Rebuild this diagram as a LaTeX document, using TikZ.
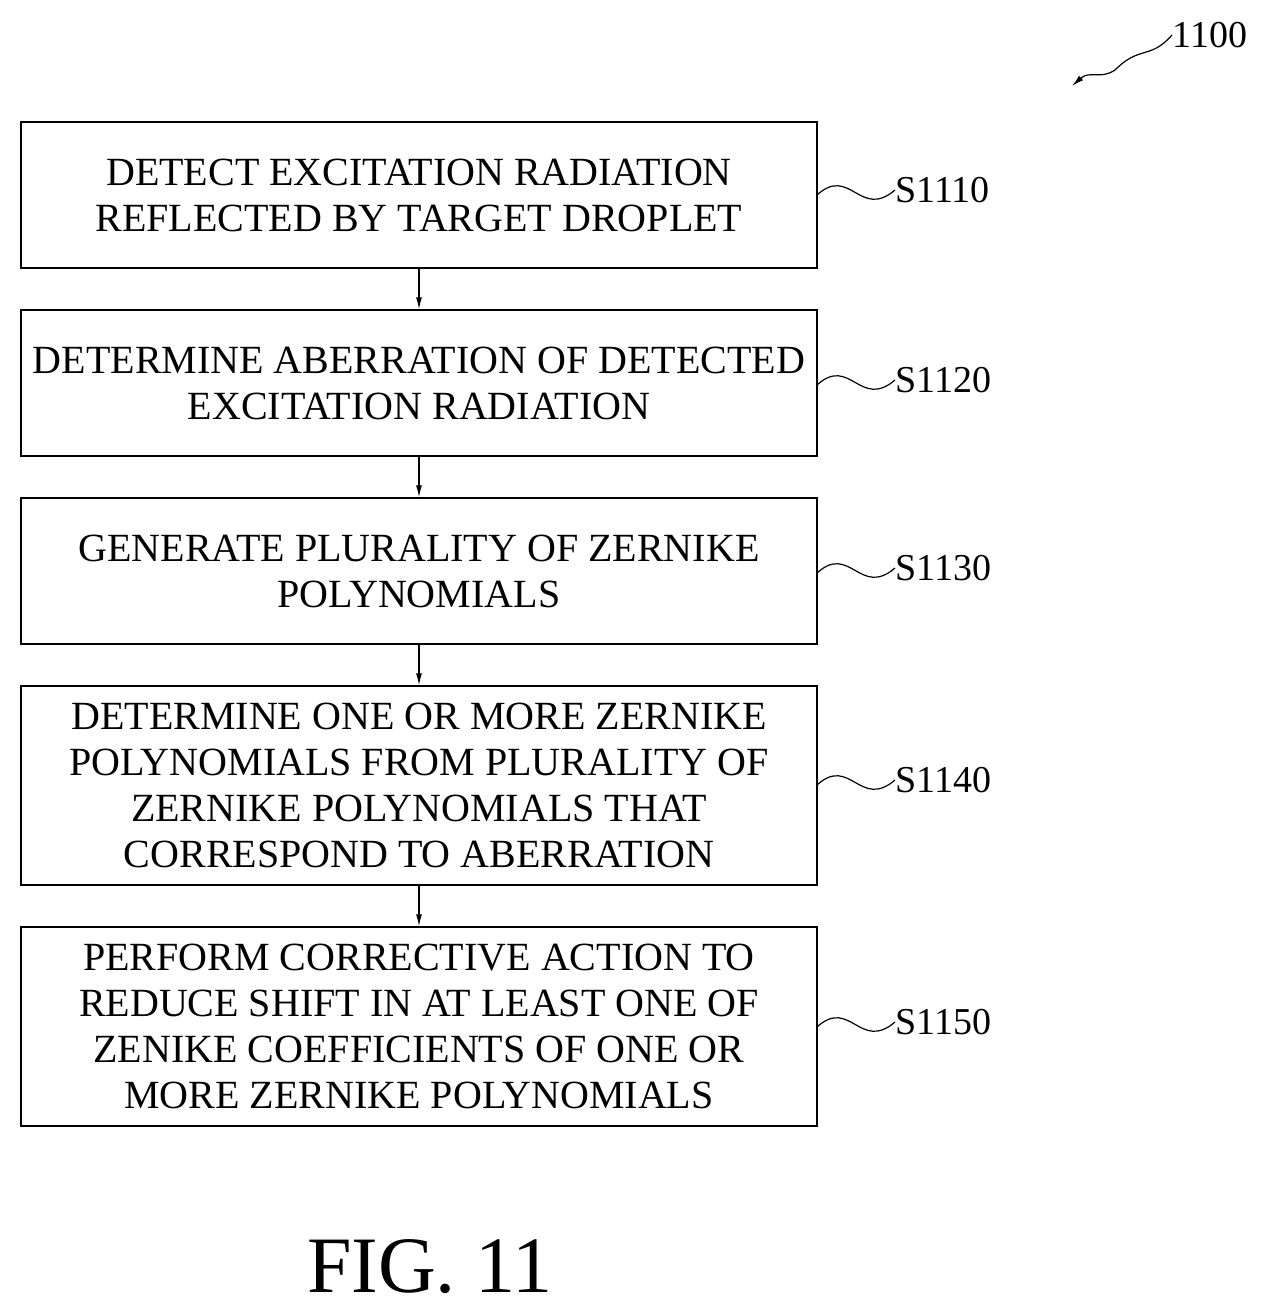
\documentclass[tikz,border=0pt]{standalone}
\usepackage{fontspec}
\setmainfont{Liberation Serif}
\usetikzlibrary{arrows.meta}
\begin{document}
\begin{tikzpicture}[x=0.5pt,y=-0.5pt,
 box/.style={draw,line width=0.7pt,minimum width=398pt,align=center,font=\fontsize{20}{23}\selectfont,inner sep=0pt},
 lab/.style={font=\fontsize{19}{22}\selectfont,anchor=west,inner sep=0pt},
 sq/.style={line width=0.6pt},
 arr/.style={-{Latex[length=6pt,width=3pt]},line width=0.6pt}]
\useasboundingbox (0,0) rectangle (1270,1308);
\node[box,minimum height=73pt] (b1) at (419,195) {DETECT EXCITATION RADIATION\\REFLECTED BY TARGET DROPLET};
\node[box,minimum height=73pt] (b2) at (419,383) {DETERMINE ABERRATION OF DETECTED\\EXCITATION RADIATION};
\node[box,minimum height=73pt] (b3) at (419,571) {GENERATE PLURALITY OF ZERNIKE\\POLYNOMIALS};
\node[box,minimum height=99.5pt] (b4) at (419,785.5) {DETERMINE ONE OR MORE ZERNIKE\\POLYNOMIALS FROM PLURALITY OF\\ZERNIKE POLYNOMIALS THAT\\CORRESPOND TO ABERRATION};
\node[box,minimum height=99.5pt] (b5) at (419,1026.5) {PERFORM CORRECTIVE ACTION TO\\REDUCE SHIFT IN AT LEAST ONE OF\\ZENIKE COEFFICIENTS OF ONE OR\\MORE ZERNIKE POLYNOMIALS};
\foreach \a/\b in {b1/b2,b2/b3,b3/b4,b4/b5}
  \draw[arr] (\a.south) -- (\b.north);
\foreach \n/\y/\t in {b1/190/S1110,b2/380/S1120,b3/568/S1130,b4/780/S1140,b5/1022/S1150}{
  \coordinate (s\n) at (817,\y+5);
  \node[lab] (l\n) at (895,\y) {\t};
  \draw[sq] (s\n) .. controls (850,\y-25) and (860,\y+30) .. (l\n.west);
}
\node[font=\fontsize{40}{44}\selectfont,inner sep=0pt] (fig) at (430,1267) {FIG. 11};
\node[lab,font=\fontsize{19}{22}\selectfont] (t) at (1172,35) {1100};
\coordinate (tip) at (1072,86);
\draw[arr] (t.west) .. controls (1150,60) and (1140,45) .. (1115,70) .. controls (1100,80) and (1090,70) .. (tip);
\end{tikzpicture}
\end{document}
